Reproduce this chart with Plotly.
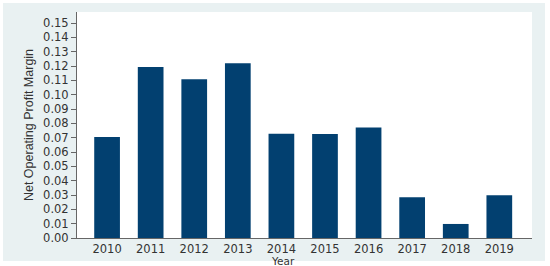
import plotly.graph_objects as go

years = [2010, 2011, 2012, 2013, 2014, 2015, 2016, 2017, 2018, 2019]
margin = [0.0705, 0.1194, 0.1108, 0.1220, 0.0728, 0.0725, 0.0771, 0.0284, 0.0098, 0.0298]
ytick_vals = [i / 100 for i in range(16)]
ytick_text = ['%.2f' % v for v in ytick_vals]

tick_font = dict(family='DejaVu Sans', size=11.5, color='#333333')

fig = go.Figure(
    data=[
        go.Bar(x=years, y=margin, width=0.59, marker=dict(color='#024070', line=dict(width=0))),
    ]
).update_layout(
    width=550,
    height=266,
    margin=dict(l=77, r=18, t=12, b=28),
    paper_bgcolor='white',
    plot_bgcolor='white',
    showlegend=False,
    xaxis=dict(
        range=[2009.31, 2019.75],
        tickvals=years,
        ticktext=[str(y) for y in years],
        tickfont=tick_font,
        showgrid=False,
        zeroline=False,
        showline=True,
        linecolor='#666666',
        linewidth=1,
        ticks='',
        automargin=False,
    ),
    yaxis=dict(
        range=[0, 0.1577],
        tickvals=ytick_vals,
        ticktext=ytick_text,
        tickfont=tick_font,
        showgrid=False,
        zeroline=False,
        showline=True,
        linecolor='#666666',
        linewidth=1,
        ticks='outside',
        ticklen=5,
        tickcolor='#666666',
        automargin=False,
        title=dict(text='Net Operating Profit Margin',
                   font=dict(family='Liberation Sans Narrow, Liberation Sans', size=12.5, color='#333333'),
                   standoff=6),
    ),
    annotations=[
        dict(text='Year', xref='paper', yref='paper', x=0.453, y=-0.1,
             xanchor='center', yanchor='middle', showarrow=False, borderpad=0,
             font=dict(family='DejaVu Sans', size=10.5, color='#333333')),
    ],
    shapes=[
        # light panel behind the whole chart
        dict(type='rect', xref='paper', yref='paper',
             x0=(3 - 77) / 455, x1=(545 - 77) / 455,
             y0=(238 - 261) / 226, y1=(238 - 3) / 226,
             fillcolor='#e9f1f2', line=dict(width=0), layer='below'),
        dict(type='rect', xref='paper', yref='paper',
             x0=0, x1=1, y0=0, y1=1,
             fillcolor='white', line=dict(width=0), layer='below'),
    ],
)

# drop the default 8px body margin so the figure sits at the page corner
fig.write_html('out.html', config={'displayModeBar': False},
               post_script="document.body.style.margin='0';")
